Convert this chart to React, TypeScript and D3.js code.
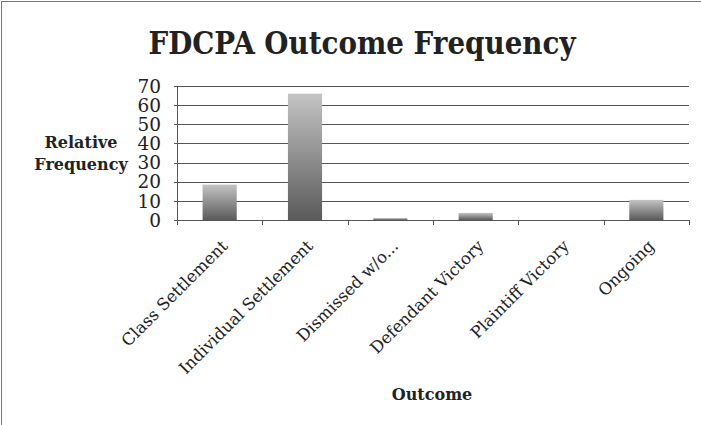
import React from "react";
import * as d3 from "d3";

const categories = ["Class Settlement", "Individual Settlement", "Dismissed w/o...", "Defendant Victory", "Plaintiff Victory", "Ongoing"];
const values = [18.5, 66, 1, 3.7, 0, 10.5];
const yTicks = [0, 10, 20, 30, 40, 50, 60, 70];
const title = "FDCPA Outcome Frequency";
const yLabel = ["Relative", "Frequency"];
const xLabel = "Outcome";

export default function App() {
  const W = 701, H = 425;
  const left = 177, right = 689, top = 86, bottom = 220;
  const x = d3.scaleBand<string>().domain(categories).range([left, right]).paddingInner(0.6).paddingOuter(0.3);
  const xb = d3.scaleBand<string>().domain(categories).range([left, right]);
  const y = d3.scaleLinear().domain([0, 70]).range([bottom, top]);
  const serif = "'DejaVu Serif', 'Liberation Serif', serif";
  return (
    <div style={{ position: "fixed", left: 0, top: 0 }}>
      <svg width={W} height={H} style={{ display: "block", background: "#fff" }}>
        <defs>
          <linearGradient id="barg" x1="0" y1="0" x2="0" y2="1">
            <stop offset="0%" stopColor="#c4c4c4" />
            <stop offset="100%" stopColor="#5a5a5a" />
          </linearGradient>
        </defs>
        <line x1={1} y1={1.5} x2={W} y2={1.5} stroke="#777" strokeWidth={1} />
        <line x1={1.5} y1={1} x2={1.5} y2={H} stroke="#777" strokeWidth={1} />
        <text x={362} y={54} textAnchor="middle" fontFamily={serif} fontWeight="bold" fontSize={32} textLength={427} lengthAdjust="spacingAndGlyphs" fill="#222">{title}</text>
        {yTicks.map((t) => (
          <g key={t}>
            <line x1={left - 3} x2={right} y1={Math.round(y(t)) + 0.5} y2={Math.round(y(t)) + 0.5} stroke="#555" strokeWidth={1} />
            <text x={161} y={y(t)} dy="0.36em" textAnchor="end" fontFamily={serif} fontSize={18.5} fill="#222">{t}</text>
          </g>
        ))}
        <line x1={left + 0.5} x2={left + 0.5} y1={top} y2={bottom} stroke="#555" />
        {categories.map((c, i) => (
          <line key={"t" + i} x1={Math.round(xb(c)! + xb.bandwidth()) + 0.5} x2={Math.round(xb(c)! + xb.bandwidth()) + 0.5} y1={bottom} y2={bottom + 5} stroke="#555" />
        ))}
        <line x1={left + 0.5} x2={left + 0.5} y1={bottom} y2={bottom + 5} stroke="#555" />
        {categories.map((c, i) => (
          <rect key={c} x={x(c)} y={y(values[i])} width={x.bandwidth()} height={bottom - y(values[i])} fill="url(#barg)" />
        ))}
        {categories.map((c) => {
          const cx = xb(c)! + xb.bandwidth() / 2 + 9;
          return (
            <text key={"l" + c} transform={`translate(${cx},${bottom + 27}) rotate(-45)`} textAnchor="end" fontFamily={serif} fontSize={16.5} fill="#222">{c}</text>
          );
        })}
        {yLabel.map((s, i) => (
          <text key={s} x={81} y={148 + i * 22} textAnchor="middle" fontFamily={serif} fontWeight="bold" fontSize={16} fill="#222">{s}</text>
        ))}
        <text x={432} y={400} textAnchor="middle" fontFamily={serif} fontWeight="bold" fontSize={16} fill="#222">{xLabel}</text>
      </svg>
    </div>
  );
}
